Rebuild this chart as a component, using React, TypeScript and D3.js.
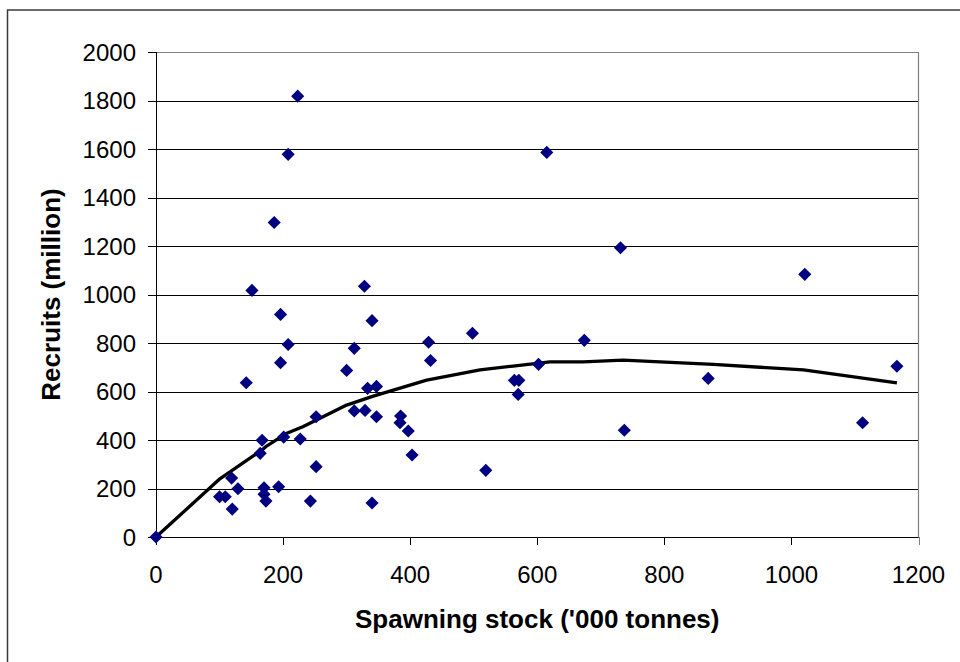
import React from "react";
import * as d3 from "d3";

const stock = [0, 223, 208, 186, 151, 196, 328, 340, 615, 731, 1021, 208, 196, 142, 312, 300, 429, 432, 498, 333, 347, 312, 329, 347, 252, 201, 227, 167, 164, 252, 385, 384, 397, 403, 119, 129, 100, 109, 120, 170, 170, 173, 193, 243, 340, 674, 602, 564, 571, 570, 737, 869, 1112, 1166, 519];
const recruits = [0, 1818, 1578, 1297, 1017, 918, 1034, 892, 1586, 1193, 1083, 794, 719, 636, 778, 687, 803, 728, 840, 613, 621, 520, 522, 496, 496, 412, 404, 399, 345, 290, 499, 471, 437, 338, 243, 199, 166, 166, 115, 203, 176, 148, 207, 148, 140, 811, 712, 646, 646, 588, 440, 654, 471, 704, 275];

const curveStock = [0, 101, 167, 174, 206, 231, 274, 300, 342, 426, 510, 562, 620, 672, 735, 877, 1019, 1166];
const curveRecruits = [0, 241, 359, 375, 428, 455, 510, 544, 581, 647, 689, 705, 722, 722, 729, 712, 689, 636];

const xTicks = [0, 200, 400, 600, 800, 1000, 1200];
const yTicks = [0, 200, 400, 600, 800, 1000, 1200, 1400, 1600, 1800, 2000];

const xTitle = "Spawning stock ('000 tonnes)";
const yTitle = "Recruits (million)";

export default function App() {
  const W = 960, H = 662;
  const left = 156, right = 918.5, top = 52, bottom = 537;
  const x = d3.scaleLinear().domain([0, 1200]).range([left, right]);
  const y = d3.scaleLinear().domain([0, 2000]).range([bottom, top]);
  const font = "'Liberation Sans', Arial, sans-serif";

  const line = d3
    .line<number>()
    .x((_, i) => x(curveStock[i]))
    .y((_, i) => y(curveRecruits[i]));
  const linePath = line(curveStock) || "";

  const diamond = d3.symbol().type(d3.symbolDiamond2).size(110)() || "";
  const pts = stock.map((s, i) => ({ s, r: recruits[i] }));

  return (
    <svg
      width={W}
      height={H}
      style={{ position: "absolute", left: 0, top: 0, display: "block", background: "#fff" }}
    >
      <rect x={0} y={0} width={W} height={H} fill="#fff" />
      <rect x={7.5} y={10} width={1200} height={1000} fill="none" stroke="#3a3a3a" strokeWidth={1.5} />
      {yTicks.map((t) => (
        <line
          key={"g" + t}
          x1={left}
          x2={right}
          y1={Math.round(y(t)) + 0.5}
          y2={Math.round(y(t)) + 0.5}
          stroke={t === 2000 ? "#808080" : "#000"}
          strokeWidth={1}
        />
      ))}
      <line x1={right} x2={right} y1={top} y2={bottom} stroke="#808080" strokeWidth={1.2} />
      <line x1={left + 0.5} x2={left + 0.5} y1={top} y2={bottom + 0.5} stroke="#000" strokeWidth={1} />
      {yTicks.map((t) => (
        <line
          key={"yt" + t}
          x1={left - 8}
          x2={left}
          y1={Math.round(y(t)) + 0.5}
          y2={Math.round(y(t)) + 0.5}
          stroke="#000"
        />
      ))}
      {yTicks.map((t) => (
        <text
          key={"yl" + t}
          x={136}
          y={y(t) + 8.6}
          textAnchor="end"
          fontFamily={font}
          fontSize={24}
          fill="#000"
        >
          {t}
        </text>
      ))}
      <line x1={left} x2={right} y1={Math.round(y(0)) + 0.5} y2={Math.round(y(0)) + 0.5} stroke="#000" />
      {xTicks.map((t) => (
        <line
          key={"xt" + t}
          x1={Math.round(x(t)) + 0.5}
          x2={Math.round(x(t)) + 0.5}
          y1={bottom}
          y2={bottom + 8}
          stroke={t === 1200 ? "#808080" : "#000"}
        />
      ))}
      {xTicks.map((t) => (
        <text
          key={"xl" + t}
          x={x(t)}
          y={583}
          textAnchor="middle"
          fontFamily={font}
          fontSize={24}
          fill="#000"
        >
          {t}
        </text>
      ))}
      <path d={linePath} fill="none" stroke="#000" strokeWidth={3.3} strokeLinejoin="round" />
      {pts.map((p, i) => (
        <path key={"p" + i} d={diamond} transform={`translate(${x(p.s)},${y(p.r)})`} fill="#000080" />
      ))}
      <text
        x={(left + right) / 2}
        y={628}
        textAnchor="middle"
        fontFamily={font}
        fontSize={26}
        fontWeight="bold"
        fill="#000"
      >
        {xTitle}
      </text>
      <text
        transform={`translate(60,${(top + bottom) / 2}) rotate(-90)`}
        textAnchor="middle"
        fontFamily={font}
        fontSize={26}
        fontWeight="bold"
        fill="#000"
      >
        {yTitle}
      </text>
    </svg>
  );
}
